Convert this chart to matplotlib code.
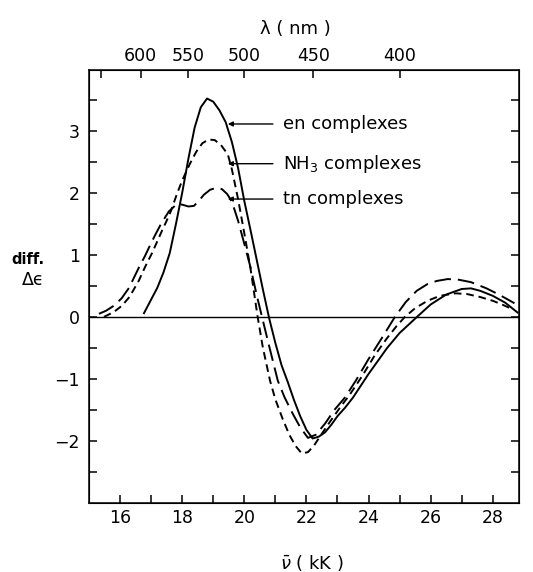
import numpy as np
import matplotlib
matplotlib.use('Agg')
import matplotlib.pyplot as plt

''' Circular dichroism difference spectra of the three complex families.
    Wavenumber (kK) on the bottom, wavelength (nm) on the top.
'''

# en complexes (solid)
en_x = [16.77, 17.0, 17.2, 17.4, 17.6, 17.8, 18.0, 18.2, 18.4, 18.6, 18.8, 19.0,
        19.2, 19.4, 19.6, 19.8, 20.0, 20.2, 20.4, 20.6, 20.8, 21.0, 21.2, 21.4,
        21.6, 21.8, 22.0, 22.2, 22.4, 22.6, 22.8, 23.0, 23.25, 23.5, 24.0, 24.6,
        25.0, 25.56, 26.0, 26.5, 27.0, 27.3, 27.6, 28.0, 28.4, 28.8]
en_y = [0.06, 0.28, 0.47, 0.72, 1.03, 1.5, 2.0, 2.55, 3.05, 3.38, 3.52, 3.47,
        3.33, 3.14, 2.82, 2.4, 1.87, 1.4, 0.92, 0.44, -0.02, -0.42, -0.78, -1.05,
        -1.34, -1.6, -1.82, -1.96, -1.93, -1.86, -1.74, -1.6, -1.46, -1.3, -0.92, -0.5,
        -0.26, 0.0, 0.2, 0.36, 0.45, 0.46, 0.42, 0.34, 0.23, 0.07]

# NH3 complexes (short dashes)
nh3_x = [15.48, 15.8, 16.06, 16.3, 16.6, 16.8, 17.02, 17.2, 17.35, 17.5, 17.64, 17.83,
         18.0, 18.25, 18.45, 18.65, 18.85, 19.05, 19.25, 19.47, 19.6, 19.8, 20.0, 20.2,
         20.43, 20.6, 20.83, 21.0, 21.24, 21.45, 21.65, 21.85, 22.05, 22.25, 22.5, 22.8,
         23.1, 23.4, 23.8, 24.2, 24.6, 24.9, 25.17, 25.5, 25.9, 26.3, 26.8, 27.16,
         27.6, 28.0, 28.3, 28.65]
nh3_y = [0.0, 0.08, 0.18, 0.32, 0.58, 0.8, 1.02, 1.22, 1.39, 1.55, 1.71, 1.98,
         2.2, 2.47, 2.66, 2.8, 2.86, 2.85, 2.77, 2.62, 2.38, 1.9, 1.35, 0.78,
         0.0, -0.5, -1.03, -1.33, -1.65, -1.9, -2.08, -2.2, -2.18, -2.07, -1.88, -1.66,
         -1.45, -1.25, -0.95, -0.62, -0.34, -0.15, 0.0, 0.14, 0.26, 0.34, 0.38, 0.37,
         0.32, 0.26, 0.2, 0.12]

# tn complexes (long dashes)
tn_x = [15.32, 15.55, 15.8, 16.05, 16.29, 16.6, 16.8, 16.99, 17.15, 17.32, 17.57, 17.83,
        18.0, 18.2, 18.38, 18.55, 18.7, 18.9, 19.09, 19.28, 19.45, 19.6, 19.8, 20.0,
        20.2, 20.4, 20.57, 20.8, 21.08, 21.3, 21.56, 21.8, 22.05, 22.3, 22.6, 22.9,
        23.24, 23.6, 24.0, 24.43, 24.85, 25.2, 25.55, 25.9, 26.2, 26.55, 26.9, 27.3,
        27.8, 28.2, 28.7]
tn_y = [0.05, 0.1, 0.18, 0.3, 0.47, 0.79, 0.98, 1.18, 1.34, 1.5, 1.7, 1.82,
        1.81, 1.78, 1.79, 1.88, 1.97, 2.05, 2.08, 2.06, 1.98, 1.86, 1.55, 1.18,
        0.8, 0.35, 0.0, -0.47, -1.03, -1.3, -1.56, -1.78, -1.95, -1.9, -1.72, -1.5,
        -1.3, -1.02, -0.68, -0.34, 0.0, 0.24, 0.42, 0.53, 0.58, 0.61, 0.6, 0.56,
        0.46, 0.36, 0.22]

# top axis wavelengths (nm)
nm_ticks = [650, 600, 550, 500, 450, 400]
nm_labels = ['', '600', '550', '500', '450', '400']

labels = ['en complexes', r'NH$_3$ complexes', 'tn complexes']
label_y = [3.11, 2.47, 1.9]

plt.rcParams['mathtext.fontset'] = 'dejavusans'
plt.rcParams['lines.scale_dashes'] = False

fig = plt.figure(figsize=(5.33, 5.72), dpi=100)
ax = fig.add_axes([0.167, 0.1206, 0.807, 0.757])

# curves
ax.plot(en_x, en_y, color='black', lw=1.4)
ax.plot(nh3_x, nh3_y, color='black', lw=1.4, linestyle=(0, (5.5, 3.5)))
ax.plot(tn_x, tn_y, color='black', lw=1.4, linestyle=(0, (12, 5)))
ax.axhline(0, color='black', lw=1.0)

ax.set_xlim(15.0, 28.85)
ax.set_ylim(-3.0, 3.98)

# ticks
ax.set_xticks(range(16, 29, 2))
ax.set_xticks(np.arange(17, 29, 2), minor=True)
ax.set_yticks(range(-2, 4))
ax.set_yticks(np.arange(-2.5, 4, 1.0), minor=True)
ax.tick_params(which='both', direction='in', length=6, width=1.1,
               left=True, right=True, top=False, bottom=True)
ax.tick_params(axis='x', labelsize=12.5, pad=4)
ax.tick_params(axis='y', labelsize=12.5, pad=6.5)
ax.set_xticklabels([str(v) for v in range(16, 29, 2)])
ax.set_yticklabels(['\u22122', '\u22121', '0', '1', '2', '3'])
for s in ax.spines.values():
    s.set_linewidth(1.1)

# top wavelength axis
ax2 = ax.twiny()
ax2.set_xlim(ax.get_xlim())
ax2.set_xticks(1e4 / np.array(nm_ticks))
ax2.set_xticklabels(nm_labels)
ax2.tick_params(direction='in', length=6, width=1.1, labelsize=12.5, pad=3.5)

# labels with arrows
for txt, yy in zip(labels, label_y):
    ax.annotate('', xy=(19.47, yy), xytext=(20.92, yy),
                arrowprops=dict(arrowstyle='-|>', color='black', lw=1.0,
                                mutation_scale=7, shrinkA=0, shrinkB=0))
    ax.text(21.24, yy, txt, fontsize=13, va='center', ha='left')

fig.text(295 / 533, 1 - 29 / 572, '\u03bb ( nm )', fontsize=13, ha='center', va='center')
fig.text(312 / 533, 1 - 563 / 572, r'$\bar{\nu}$ ( kK )', fontsize=13, ha='center', va='center')
fig.text(28 / 533, 1 - 259 / 572, 'diff.', fontsize=10.5, fontweight='bold', ha='center', va='center')
fig.text(33 / 533, 1 - 280 / 572, '\u0394\u03f5', fontsize=12.5, ha='center', va='center')

fig.savefig('out.png', dpi=100)
